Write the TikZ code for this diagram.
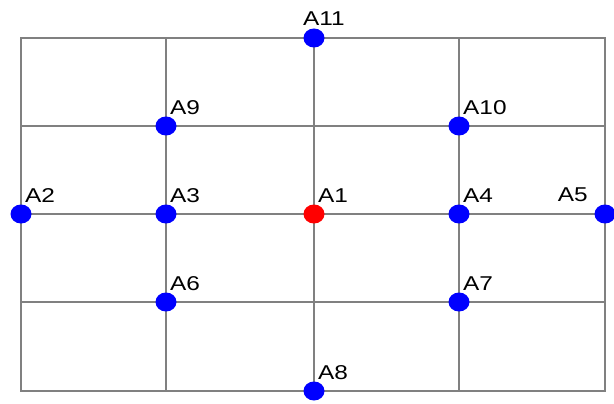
\documentclass[tikz,border=0pt]{standalone}
\usepackage{fontspec}
\setmainfont{Liberation Sans}
\usetikzlibrary{shapes.geometric, positioning}
\tikzset{
	gridline/.style={
		draw=black!50,
		line width=1.3pt
	},
	dot/.style={
		ellipse,
		fill=blue,
		minimum width=21pt,
		minimum height=19pt,
		inner sep=0pt
	},
	centredot/.style={
		dot,
		fill=red
	},
	lbl/.style={
		anchor=base west,
		inner sep=0pt,
		font=\fontsize{20}{20}\selectfont
	}
}
\newcommand{\ptname}[1]{\scalebox{1.22}[1]{#1}}

\begin{document}
\begin{tikzpicture}[x=1pt, y=-1pt]
		\useasboundingbox (0,0) rectangle (614,404);
		
		% grid
		\draw [gridline] (21,38) rectangle (605,391);
		\foreach \gx in {166,314,459}
			\draw [gridline] (\gx,38) -- (\gx,391);
		\foreach \gy in {126,214,302}
			\draw [gridline] (21,\gy) -- (605,\gy);
		
		% points
		\node (a1)  [centredot] at (314,214) {};
		\node (a2)  [dot]       at (21,214)  {};
		\node (a3)  [dot]       at (166,214) {};
		\node (a4)  [dot]       at (459,214) {};
		\node (a5)  [dot]       at (605,214) {};
		\node (a6)  [dot]       at (166,302) {};
		\node (a7)  [dot]       at (459,302) {};
		\node (a8)  [dot]       at (314,391) {};
		\node (a9)  [dot]       at (166,126) {};
		\node (a10) [dot]       at (459,126) {};
		\node (a11) [dot]       at (314,38)  {};
		
		% labels
		\node (t1)  [lbl] at ([xshift=4pt,yshift=12pt]a1.center)  {\ptname{A1}};
		\node (t2)  [lbl] at ([xshift=4pt,yshift=12pt]a2.center)  {\ptname{A2}};
		\node (t3)  [lbl] at ([xshift=4pt,yshift=12pt]a3.center)  {\ptname{A3}};
		\node (t4)  [lbl] at ([xshift=4pt,yshift=12pt]a4.center)  {\ptname{A4}};
		\node (t5)  [lbl, anchor=base east] at ([xshift=-17pt,yshift=13pt]a5.center) {\ptname{A5}};
		\node (t6)  [lbl] at ([xshift=4pt,yshift=12pt]a6.center)  {\ptname{A6}};
		\node (t7)  [lbl] at ([xshift=4pt,yshift=12pt]a7.center)  {\ptname{A7}};
		\node (t8)  [lbl] at ([xshift=4pt,yshift=12pt]a8.center)  {\ptname{A8}};
		\node (t9)  [lbl] at ([xshift=4pt,yshift=12pt]a9.center)  {\ptname{A9}};
		\node (t10) [lbl] at ([xshift=4pt,yshift=12pt]a10.center) {\ptname{A10}};
		\node (t11) [lbl] at ([xshift=-11pt,yshift=12pt]a11.center) {\ptname{A11}};
		
	\end{tikzpicture}
\end{document}
